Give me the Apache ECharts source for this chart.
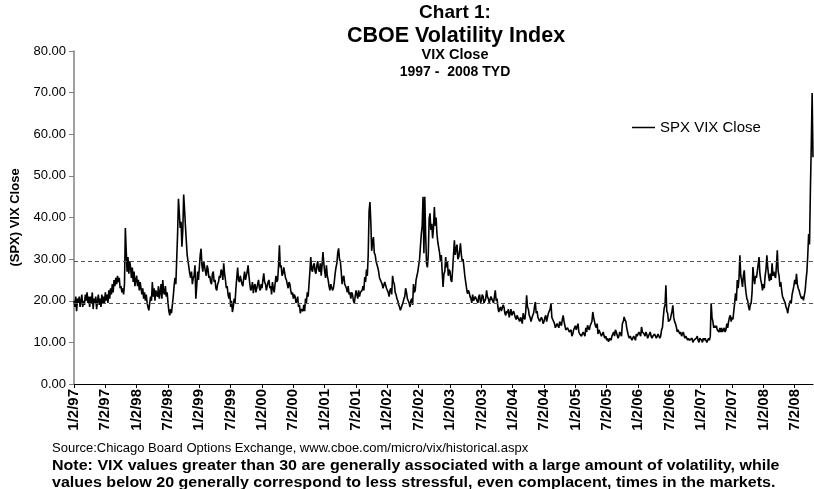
<!DOCTYPE html>
<html>
<head>
<meta charset="utf-8">
<script src="https://cdn.jsdelivr.net/npm/echarts@6/dist/echarts.min.js"></script>
<style>
  html, body { margin: 0; padding: 0; background: #fff; }
  #chart { width: 814px; height: 489px; }
</style>
</head>
<body>
<div id="chart"></div>
<script>
// VIX close, six readings per month (one row per month)
const vix1997 = [
  20, 18.5, 21, 17.5, 20.5, 19.5,   21, 18.5, 20, 21.5, 18.5, 20,   19, 21.5, 20, 22, 19.5, 21,
  18.5, 21, 19.5, 22, 18, 20.5,     19.5, 21, 18, 20, 21.5, 19,     20.5, 18.5, 21.5, 19.5, 21, 19.5,
  22, 20, 21.5, 19.5, 22.5, 20.5,   23, 21.5, 24, 22, 25, 23.5,     25.5, 24, 26, 24.5, 25.5, 23,
  23.5, 22, 23, 21.5, 24, 37.5,     32, 27, 30.5, 26.5, 29.5, 28,   25.5, 28, 24.5, 27, 23.5, 25];
const vix1998 = [
  26, 23.5, 25, 22.5, 24.5, 23,     21.5, 23, 20.5, 22, 20, 21.5,   19.5, 18.5, 17.7, 19.5, 21, 20,
  24.5, 21, 23, 20, 22.5, 21.5,     21, 23.5, 20.5, 22, 24, 20.5,   25, 22, 21.5, 23.5, 21, 22,
  19.5, 17.5, 16.5, 18, 17, 19,     21, 23.5, 25.5, 24, 30, 36,     44.5, 41, 37.5, 39, 33, 37,
  45.5, 42, 38, 34.5, 31, 29.5,     28, 26.5, 25.5, 27, 24, 25.5,   26, 28.5, 20.5, 23.5, 27, 25];
const vix1999 = [
  28, 31, 32.5, 28.5, 27, 29.5,     29.5, 27, 26, 28.5, 27.5, 25.5, 26, 24.5, 24, 26.5, 27, 24.5,
  25, 23, 22.5, 24, 24.5, 26,       25.5, 27.5, 27, 25, 29, 26.5,   25, 23, 23.5, 21.5, 20.5, 22,
  18.5, 20, 17.3, 18.5, 20.5, 19.5, 23, 25.5, 28, 25, 24.5, 26,     26, 24, 23.5, 25.5, 27, 25,
  25, 27, 28.5, 26, 24, 22.5,       23, 24.5, 21.8, 23.5, 24, 22,   22, 24, 25, 23, 22.5, 24];
const vix2000 = [
  23, 25, 26.6, 24.5, 24, 22.5,     22.5, 24.5, 25, 23, 23.5, 21.5, 24.5, 23, 22, 24, 26, 24.5,
  25, 28.5, 33.3, 28, 28.5, 26,     26.5, 28, 28, 25.5, 25, 24,     23, 24.5, 24, 22.5, 21.5, 22,
  20.5, 21.5, 21, 19.5, 20, 21,     18.5, 19, 17, 18, 18, 17.5,     19, 17.5, 20.5, 19.5, 22, 21,
  24, 27, 30.5, 27.5, 27, 28.5,     29, 27, 26.5, 28.5, 29.5, 27.5, 27, 29, 26, 28.5, 31.7, 29];
const vix2001 = [
  27, 25.5, 28.5, 26, 25, 23.5,     22.5, 24, 24, 22.5, 23, 24.5,   26.5, 28, 29, 31.5, 32.6, 30,
  29.5, 27, 24, 25.5, 26, 24,       24, 23, 22, 23.5, 21.5, 22,     20.5, 22, 21.5, 20, 19.4, 21,
  22.5, 21.5, 20.5, 22.5, 21, 22,   21.8, 22.5, 23.5, 22.5, 25.7, 24.5, 27.5, 26, 31, 41.5, 43.7, 39,
  32, 34, 35.3, 31.5, 31, 29.5,     29.7, 28, 27, 25.5, 25.5, 24.5, 24, 23, 23.3, 24.5, 24.5, 23];
const vix2002 = [
  23.3, 22, 21, 22.5, 23, 21.5,     26, 24.5, 24, 22, 21.5, 20.5,   20, 19, 18.5, 17.7, 18, 19,
  19.5, 20.5, 21, 23, 22, 20.5,     20, 19.5, 18.5, 20, 20.5, 19,   24, 22, 22.5, 25, 26, 27,
  27.3, 30, 33, 36, 38, 45,         31.4, 45, 36, 29, 28, 31,       39.7, 41, 37, 38.5, 35, 37.5,
  42.5, 38, 40, 36, 34, 33.8,       31.5, 29.5, 31, 27, 23.3, 26.5, 27, 30.5, 28, 29.5, 26, 27.5];
const vix2003 = [
  27, 25, 24.5, 27.5, 31, 34.5,     31, 32.5, 33.5, 30, 30.5, 32,   33.8, 31, 29.5, 30, 28, 26,
  24.5, 23, 21.7, 22.5, 22, 21,     20.5, 19.5, 21.5, 20, 19.8, 21, 21, 20, 19.5, 21, 21.5, 19.5,
  20, 21.5, 21, 19.5, 19.5, 20.5,   22.5, 21, 20.5, 19.5, 19.5, 21, 21, 20, 19.5, 21, 22.5, 20,
  20.5, 18.5, 17.3, 18, 18.5, 17.5, 17.5, 19, 18.5, 17, 16.5, 17.5, 17, 18, 16, 17, 18, 16.5];
const vix2004 = [
  16.5, 17.5, 17.5, 16, 15.5, 16.5, 16.5, 15.5, 15, 16, 15.5, 14.5, 17, 16, 15.5, 17.5, 21.3, 18.5,
  18, 16.5, 16, 15, 15, 16.5,       17, 18.5, 19.7, 17, 17.5, 16,   16, 15, 15, 16, 15.5, 14.5,
  15, 16, 16.5, 15, 16, 17,         17, 18, 19.3, 16, 15.5, 15,     14.5, 13.5, 13.5, 14.5, 14.5, 13.5,
  15, 14.5, 14, 15.5, 16.5, 15,     14, 13, 13, 13.5, 13.5, 12.5,   12.5, 13, 11.5, 12, 13, 13.5];
const vix2005 = [
  14, 13, 13, 14.5, 12.5, 12,       12, 11.5, 11.5, 12.5, 12.5, 11.5, 13.5, 12.5, 14.1, 13.5, 13, 14,
  14, 15, 17.3, 16, 15, 14,         13.5, 14.5, 12, 13, 13, 12,     11.5, 12, 12.5, 11.5, 11, 11.5,
  10.5, 11, 10.2, 10.5, 11, 10.5,   11.5, 12, 12.5, 11.5, 13, 12.5, 12.5, 11, 11.5, 12.5, 12.5, 11.5,
  14.5, 15, 16.1, 15.5, 15, 13.5,   12.5, 11.5, 11, 11.5, 11.5, 10.5, 10.5, 11.5, 11, 10.5, 12, 11.5];
const vix2006 = [
  11.5, 12.5, 12, 11.5, 13.7, 12.5, 12.5, 12, 11.5, 12.5, 12, 11,   11.5, 12, 12.5, 11.5, 11, 11.5,
  11.5, 12, 12, 11, 11.5, 12,       12, 11, 11.5, 13, 13.5, 16,     18.2, 19, 23.7, 17.5, 17, 15,
  14.6, 15.5, 16.5, 17.5, 18.9, 16, 15, 14.5, 13.7, 12.5, 13, 12.5, 12, 12.5, 11.5, 12, 12.5, 11.5,
  11, 11.5, 11.5, 10.5, 11, 10.5,   10.5, 10.5, 11, 10, 10.5, 10.5, 10.5, 11, 11.5, 10.5, 10, 11];
const vix2007 = [
  11, 10.5, 10, 11, 10.5, 11,       10.5, 10, 10, 11, 10.5, 11.5,   19.4, 16, 15, 13.5, 14, 13.5,
  14, 13, 13, 12.5, 13.5, 12.5,     13.5, 12.5, 13, 13.5, 12.5, 13, 14.5, 13.5, 15, 16, 16.5, 15,
  16, 15.5, 17.5, 19.5, 21.8, 20,   25, 23, 25.5, 30.9, 26, 25,     23.3, 26, 27.3, 24, 22, 20.5,
  20, 18.5, 17.7, 19, 19.5, 22,     28.1, 25.5, 24, 26, 25.5, 27,   27, 30.5, 26.5, 25, 24, 22.5];
const vix2008 = [
  24, 23, 26, 27.5, 30.9, 28,       26, 24.7, 26.5, 25, 29, 26,     27, 26, 25.5, 28.5, 32.1, 27,
  26, 23.4, 24.5, 22.5, 21, 21,     21, 19.5, 18.5, 18, 17, 18.5,   18.5, 20.1, 19.5, 21.5, 22.5, 23.5,
  25, 24, 26.5, 24, 23, 22.5,       21.7, 21, 20.5, 21, 20.1, 20,   22.5, 25, 27, 31, 36, 33.5,
  46.5, 57, 69.9, 54.5];

const readingsPerMonth = 6;
const tickLabels = ['1/2/97', '7/2/97', '1/2/98', '7/2/98', '1/2/99', '7/2/99', '1/2/00', '7/2/00',
  '1/2/01', '7/2/01', '1/2/02', '7/2/02', '1/2/03', '7/2/03', '1/2/04', '7/2/04',
  '1/2/05', '7/2/05', '1/2/06', '7/2/06', '1/2/07', '7/2/07', '1/2/08', '7/2/08'];
const monthsPerTick = 6;
const refLevels = [19.3, 29.6];

const vix = [].concat(vix1997, vix1998, vix1999, vix2000, vix2001, vix2002,
  vix2003, vix2004, vix2005, vix2006, vix2007, vix2008);
const seriesData = vix.map((v, i) => [i / readingsPerMonth, v]);
const lastMonth = (vix.length - 1) / readingsPerMonth;
const tickValues = tickLabels.map((_, i) => i * monthsPerTick);

const FONT = 'Liberation Sans, Arial, sans-serif';
const chart = echarts.init(document.getElementById('chart'), null, { renderer: 'canvas' });

// the note lines in the source are set wide, so stretch them a bit
const noteStyle = { fontFamily: FONT, fontSize: 14, fontWeight: 'bold', fill: '#000', align: 'left', verticalAlign: 'middle' };

const option = {
  backgroundColor: '#fff',
  animation: false,
  grid: { left: 74, right: 1, top: 51, bottom: 105, containLabel: false },
  legend: {
    data: ['SPX VIX Close'],
    left: 632,
    top: 120,
    padding: 0,
    icon: 'rect',
    itemWidth: 23,
    itemHeight: 1.5,
    textStyle: { fontFamily: FONT, fontSize: 15, color: '#000' }
  },
  xAxis: {
    type: 'value',
    min: 0,
    max: lastMonth,
    splitLine: { show: false },
    axisLine: { show: true, onZero: false, lineStyle: { color: '#000', width: 1 } },
    axisTick: { show: true, customValues: tickValues, length: 4, lineStyle: { color: '#000' } },
    axisLabel: {
      customValues: tickValues,
      rotate: 90,
      margin: 5,
      fontFamily: FONT,
      fontSize: 15,
      fontWeight: 'bold',
      color: '#000',
      formatter: v => tickLabels[Math.round(v / monthsPerTick)] || ''
    }
  },
  yAxis: {
    type: 'value',
    min: 0,
    max: 80,
    interval: 10,
    name: '(SPX) VIX Close',
    nameLocation: 'middle',
    nameRotate: 90,
    nameGap: 52,
    nameTextStyle: { fontFamily: FONT, fontSize: 13, fontWeight: 'bold', color: '#000' },
    splitLine: { show: false },
    axisLine: { show: true, lineStyle: { color: '#808080', width: 1.5 } },
    axisTick: { show: true, length: 5, lineStyle: { color: '#808080' } },
    axisLabel: {
      margin: 8,
      fontFamily: FONT,
      fontSize: 13,
      color: '#000',
      formatter: v => v.toFixed(2)
    }
  },
  series: [{
    name: 'SPX VIX Close',
    type: 'line',
    data: seriesData,
    showSymbol: false,
    symbol: 'none',
    color: '#000',
    lineStyle: { color: '#000', width: 1.6 },
    markLine: {
      silent: true,
      symbol: 'none',
      label: { show: false },
      lineStyle: { color: '#555', width: 1.2, type: [4, 3] },
      data: refLevels.map(v => ({ yAxis: v }))
    }
  }],
  graphic: [
    { type: 'text', x: 455, y: 13, style: { text: 'Chart 1:', fontFamily: FONT, fontSize: 19, fontWeight: 'bold', fill: '#000', align: 'center', verticalAlign: 'middle' } },
    { type: 'text', x: 456, y: 36, style: { text: 'CBOE Volatility Index', fontFamily: FONT, fontSize: 21.5, fontWeight: 'bold', fill: '#000', align: 'center', verticalAlign: 'middle' } },
    { type: 'text', x: 455, y: 55, style: { text: 'VIX Close', fontFamily: FONT, fontSize: 14.5, fontWeight: 'bold', fill: '#000', align: 'center', verticalAlign: 'middle' } },
    { type: 'text', x: 455, y: 72, style: { text: '1997 -  2008 TYD', fontFamily: FONT, fontSize: 14, fontWeight: 'bold', fill: '#000', align: 'center', verticalAlign: 'middle' } },
    { type: 'text', x: 52, y: 448, style: { text: 'Source:Chicago Board Options Exchange, www.cboe.com/micro/vix/historical.aspx', fontFamily: FONT, fontSize: 13, fill: '#000', align: 'left', verticalAlign: 'middle' } },
    { type: 'text', x: 52, y: 466, scaleX: 1.145, style: Object.assign({ text: 'Note: VIX values greater than 30 are generally associated with a large amount of volatility, while' }, noteStyle) },
    { type: 'text', x: 52, y: 483, scaleX: 1.145, style: Object.assign({ text: 'values below 20 generally correspond to less stressful, even complacent, times in the markets.' }, noteStyle) }
  ]
};

chart.setOption(option);
window.addEventListener('resize', () => chart.resize());
</script>
</body>
</html>
